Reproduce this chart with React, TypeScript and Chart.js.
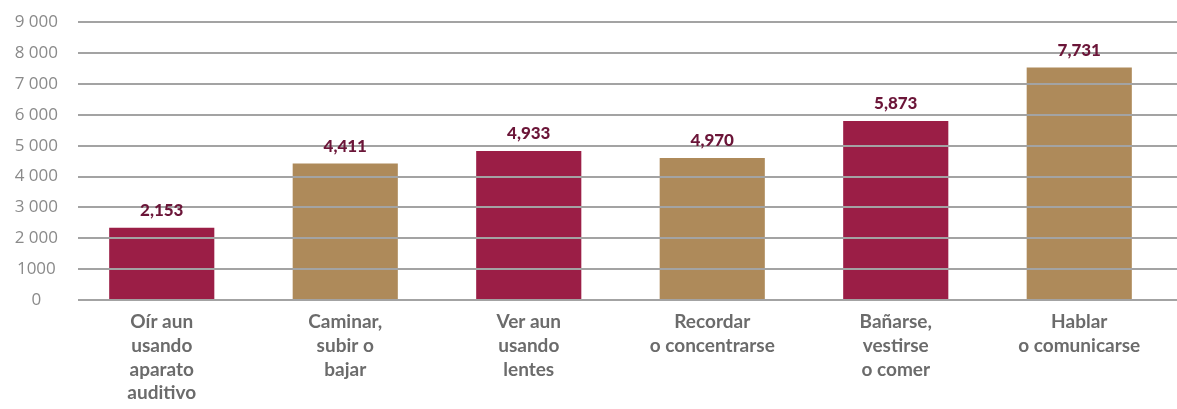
import React, { useEffect, useRef } from "react";
import { Chart, registerables } from "chart.js";

Chart.register(...registerables);

const categories: string[][] = [
  ["Oír aun", "usando", "aparato", "auditivo"],
  ["Caminar,", "subir o", "bajar"],
  ["Ver aun", "usando", "lentes"],
  ["Recordar", "o concentrarse"],
  ["Bañarse,", "vestirse", "o comer"],
  ["Hablar", "o comunicarse"],
];
const barValues: number[] = [2340, 4420, 4830, 4600, 5800, 7530];
const valueLabels: string[] = ["2,153", "4,411", "4,933", "4,970", "5,873", "7,731"];
const yTickLabels: Record<number, string> = {
  0: "0",
  1000: "1000",
  2000: "2 000",
  3000: "3 000",
  4000: "4 000",
  5000: "5 000",
  6000: "6 000",
  7000: "7 000",
  8000: "8 000",
  9000: "9 000",
};

const MAROON = "#9b1e46";
const GOLD = "#ae8a5a";
const barColors = [MAROON, GOLD, MAROON, GOLD, MAROON, GOLD];

const overlayPlugin = {
  id: "overlay",
  afterDatasetsDraw(chart: any) {
    const { ctx } = chart;
    const y = chart.scales.y;
    ctx.save();
    ctx.strokeStyle = "#a3a3a3";
    ctx.lineWidth = 2;
    y.ticks.forEach((t: any) => {
      const py = Math.round(y.getPixelForValue(t.value));
      ctx.beginPath();
      ctx.moveTo(78, py);
      ctx.lineTo(chart.width, py);
      ctx.stroke();
    });
    const meta = chart.getDatasetMeta(0);
    ctx.fillStyle = "#6b1538";
    ctx.font = "900 17px Lato";
    ctx.textAlign = "center";
    ctx.textBaseline = "middle";
    meta.data.forEach((bar: any, i: number) => {
      ctx.fillText(valueLabels[i], bar.x, bar.y - 17);
    });
    ctx.restore();
  },
};

export default function App() {
  const ref = useRef<HTMLCanvasElement | null>(null);
  useEffect(() => {
    document.body.style.margin = "0";
    const chart = new Chart(ref.current as HTMLCanvasElement, {
      type: "bar",
      data: {
        labels: categories,
        datasets: [
          {
            data: barValues,
            backgroundColor: barColors,
            borderWidth: 0,
            barPercentage: 0.573,
            categoryPercentage: 1,
          },
        ],
      },
      options: {
        animation: false,
        responsive: false,
        layout: { padding: { top: 21, right: 6, left: 0, bottom: 0 } },
        plugins: { legend: { display: false }, tooltip: { enabled: false } },
        scales: {
          x: {
            grid: { display: false, drawTicks: false },
            border: { display: false },
            ticks: {
              color: "#6b6b6b",
              font: { family: "Lato", size: 19, weight: "bold", lineHeight: 1.25 },
              padding: 10,
              maxRotation: 0,
              autoSkip: false,
            },
            afterFit: (s: any) => {
              s.height = 109;
            },
          },
          y: {
            min: 0,
            max: 9000,
            grid: { display: false, drawTicks: false },
            border: { display: false },
            ticks: {
              stepSize: 1000,
              color: "#8a8a8a",
              font: { family: "Open Sans", size: 17 },
              padding: 12,
              crossAlign: "center",
              callback: (v: any) => yTickLabels[v as number] ?? "",
            },
            afterFit: (s: any) => {
              s.width = 70;
            },
          },
        },
      },
      plugins: [overlayPlugin],
    } as any);
    return () => chart.destroy();
  }, []);
  return (
    <div style={{ width: 1177, height: 409 }}>
      <canvas ref={ref} width={1177} height={409} />
    </div>
  );
}
